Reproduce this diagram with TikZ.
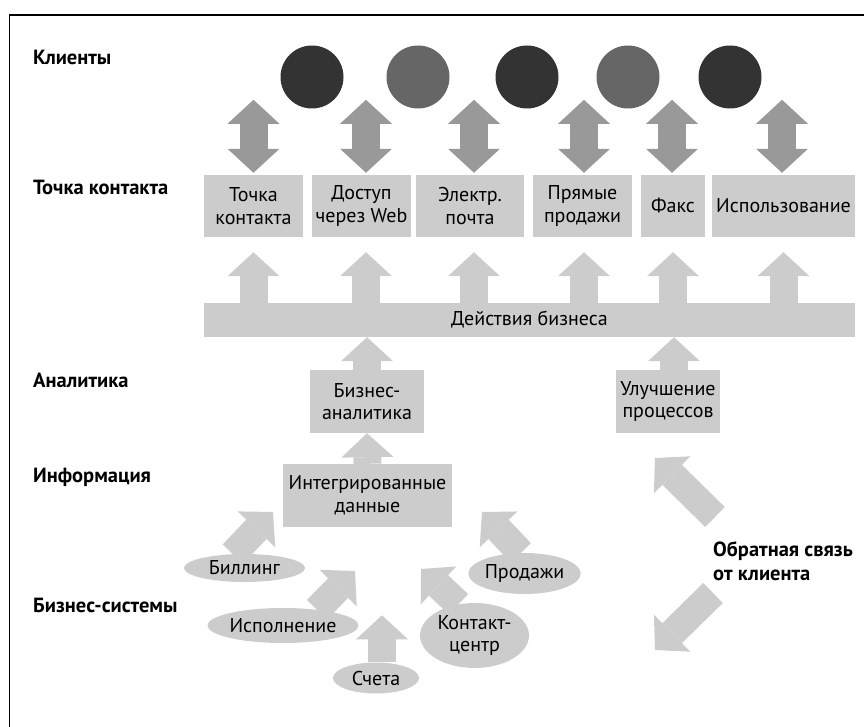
\documentclass[tikz,border=0pt]{standalone}
\usepackage{fontspec}
\setmainfont{PT Sans}
\usepackage{xcolor}
\usetikzlibrary{arrows.meta,shapes.geometric,calc,positioning,backgrounds}

\definecolor{boxgrey}{HTML}{CCCCCC}
\definecolor{arrowgrey}{HTML}{999999}
\definecolor{darkdot}{HTML}{333333}
\definecolor{middot}{HTML}{666666}

\begin{document}
\begin{tikzpicture}[x=1pt,y=-1pt,>={Triangle[length=24pt,width=52pt,line width=0pt]},
    font=\fontsize{20}{22.5}\selectfont]
  \tikzstyle{every node}=[inner sep=0pt]
  \tikzstyle{level}=[anchor=base west,font=\fontsize{20.5}{23}\selectfont\bfseries]
  \tikzstyle{box}=[fill=boxgrey,align=center,minimum height=62pt]
  \tikzstyle{sys}=[ellipse,fill=boxgrey,align=center]
  \tikzstyle{client}=[circle,minimum size=63pt]
  \tikzstyle{flow}=[draw=boxgrey,line width=28pt,->]
  \tikzstyle{both}=[draw=arrowgrey,line width=28pt,<->]
  \useasboundingbox (0,0) rectangle (864,727);
  \draw[line width=1.6pt] (864,15) -- (9.5,15) -- (9.5,727);

  % levels
  \node[level] (lclients) at (33,65) {Клиенты};
  \node[level] (ltouch) at (33,195) {Точка контакта};
  \node[level] (lanalytics) at (33,387) {Аналитика};
  \node[level] (linfo) at (33,482) {Информация};
  \node[level] (lsystems) at (33,612) {Бизнес-системы};

  % clients
  \foreach \x/\c [count=\i] in {312/darkdot,418/middot,527/darkdot,628/middot,730/darkdot}
    \node[client,fill=\c] (cl\i) at (\x,77) {};

  % touch points
  \node[box,minimum width=99pt] (tp1) at (253.5,206) {Точка\\контакта};
  \node[box,minimum width=99pt] (tp2) at (361.5,206) {Доступ\\через Web};
  \node[box,minimum width=108pt] (tp3) at (470,206) {Электр.\\почта};
  \node[box,minimum width=99pt] (tp4) at (582.5,206) {Прямые\\продажи};
  \node[box,minimum width=64pt] (tp5) at (673,206) {Факс};
  \node[box,minimum width=143pt] (tp6) at (783.5,206) {Использование};

  \node[box,minimum width=651pt,minimum height=34pt] (bar) at (529.5,320) {Действия бизнеса};
  \node[box,minimum width=114pt,minimum height=63pt] (ba) at (367,401.5) {Бизнес-\\аналитика};
  \node[box,minimum width=104pt,minimum height=63pt] (pi) at (668,401.5) {Улучшение\\процессов};
  \node[box,minimum width=169pt,minimum height=63pt] (idata) at (367.5,495.5) {Интегрированные\\данные};

  % business systems
  \node[sys,minimum width=121pt,minimum height=28pt] (billing) at (244.5,568) {Биллинг};
  \node[sys,minimum width=148pt,minimum height=35pt] (fulfil) at (283,625.5) {Исполнение};
  \node[sys,minimum width=86pt,minimum height=31pt] (invoices) at (376,678) {Счета};
  \node[sys,minimum width=109pt,minimum height=65pt] (contact) at (474.5,635.5) {Контакт-\\центр};
  \node[sys,minimum width=107pt,minimum height=41pt] (sales) at (524.5,573.5) {Продажи};

  \node[anchor=west,align=left,font=\fontsize{20.5}{23.5}\selectfont\bfseries] (fb) at (713,561) {Обратная связь\\от клиента};

  \coordinate (tbill) at (273,512);
  \coordinate (tfulfil) at (355,571);
  \coordinate (tcontact) at (421,569);
  \coordinate (tsales) at (482,512);
  \coordinate (fbup0) at (715,517);
  \coordinate (fbup) at (655,458);
  \coordinate (fbdown0) at (713,593);
  \coordinate (fbdown) at (655,650);

  \begin{scope}[on background layer]
    \draw[both] ([yshift=2pt]tp1.north) -- ++(0,-73);
    \draw[both] ([xshift=4.5pt,yshift=2pt]tp2.north) -- ++(0,-73);
    \draw[both] ([xshift=4pt,yshift=2pt]tp3.north) -- ++(0,-73);
    \draw[both] ([xshift=1.5pt,yshift=2pt]tp4.north) -- ++(0,-73);
    \draw[both] ([xshift=-1pt,yshift=2pt]tp5.north) -- ++(0,-73);
    \draw[both] ([xshift=-1.5pt,yshift=2pt]tp6.north) -- ++(0,-73);

    \draw[flow,shorten >=15pt] (bar.north -| tp1) -- (tp1.south);
    \draw[flow,shorten >=15pt] ([xshift=4.5pt]tp2.south |- bar.north) -- ([xshift=4.5pt]tp2.south);
    \draw[flow,shorten >=15pt] ([xshift=4pt]tp3.south |- bar.north) -- ([xshift=4pt]tp3.south);
    \draw[flow,shorten >=15pt] ([xshift=1.5pt]tp4.south |- bar.north) -- ([xshift=1.5pt]tp4.south);
    \draw[flow,shorten >=15pt] (bar.north -| tp5) -- (tp5.south);
    \draw[flow,shorten >=15pt] (bar.north -| tp6) -- (tp6.south);

    \draw[flow] (ba.north) -- (ba.north |- bar.south);
    \draw[flow] ([xshift=6pt]pi.north) -- ([xshift=6pt]pi.north |- bar.south);
    \draw[flow] (idata.north) -- (ba.south);

    \draw[flow] (billing.130) -- (tbill);
    \draw[flow] (fulfil.25) -- (tfulfil);
    \draw[flow] ([xshift=6pt]invoices.north) -- ++(0,-47);
    \draw[flow] (contact.117) -- (tcontact);
    \draw[flow] (sales.100) -- (tsales);

    \draw[flow] (fbup0) -- (fbup);
    \draw[flow] (fbdown0) -- (fbdown);
  \end{scope}
\end{tikzpicture}
\end{document}
